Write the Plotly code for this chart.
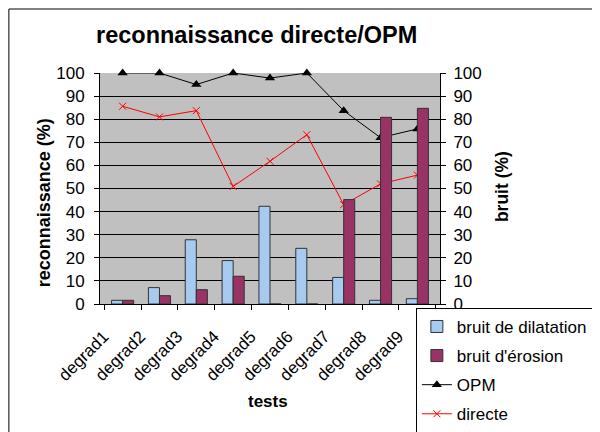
import plotly.graph_objects as go

categories = ["degrad1", "degrad2", "degrad3", "degrad4", "degrad5", "degrad6", "degrad7", "degrad8", "degrad9"]
bruit_dilatation = [1.6, 7.1, 27.8, 18.8, 42.3, 24.1, 11.5, 1.6, 2.3]
bruit_erosion = [1.6, 3.6, 6.2, 12.0, 0, 0, 45.2, 80.8, 84.7]
opm = [100, 100, 95, 100, 97.8, 100, 83.7, 72, 75.8]
directe = [85.6, 81, 83.7, 50.9, 61.8, 73.3, 43, 52, 55.8]
y_ticks = [0, 10, 20, 30, 40, 50, 60, 70, 80, 90, 100]

FONT = "Liberation Sans, Arial, sans-serif"

fig = go.Figure()
fig.add_trace(go.Bar(x=categories, y=bruit_dilatation, name="bruit de dilatation", yaxis="y2",
                     marker=dict(color="#a6caf0", line=dict(color="#333333", width=1)),
                     legendgroup="a"))
fig.add_trace(go.Bar(x=categories, y=bruit_erosion, name="bruit d'érosion", yaxis="y2",
                     marker=dict(color="#993366", line=dict(color="#333333", width=1)),
                     legendgroup="b"))
fig.add_trace(go.Scatter(x=categories, y=opm, name="OPM", mode="lines+markers",
                         line=dict(color="black", width=1), cliponaxis=False,
                         marker=dict(symbol="triangle-up", size=9, color="black"),
                         legendgroup="c"))
fig.add_trace(go.Scatter(x=categories, y=directe, name="directe", mode="lines+markers",
                         line=dict(color="#ff0000", width=1), cliponaxis=False,
                         marker=dict(symbol="x-thin", size=7, line=dict(color="#ff0000", width=1)),
                         legendgroup="d"))

fig.update_layout(
    width=600, height=432,
    margin=dict(l=92, r=168, t=65, b=136, autoexpand=False),
    paper_bgcolor="white",
    plot_bgcolor="#c0c0c0",
    font=dict(family=FONT, size=17, color="black"),
    barmode="group", bargap=0.4, bargroupgap=0,
    showlegend=True,
    legend=dict(x=0.929, y=-0.017, xanchor="left", yanchor="top",
                bgcolor="white", bordercolor="black", borderwidth=1,
                font=dict(size=17), traceorder="grouped", tracegroupgap=4),
    xaxis=dict(type="category", tickson="boundaries", ticks="outside", ticklen=5,
               tickcolor="black", showline=True, linecolor="black", tickangle=-45,
               ticklabelshift=-19, ticklabelstandoff=15,
               showgrid=False, tickfont=dict(size=17)),
    yaxis=dict(range=[0, 100], tickvals=y_ticks, ticks="outside", ticklen=5, tickcolor="black",
               showline=True, linecolor="black", gridcolor="black", gridwidth=1,
               ticklabelstandoff=6,
               zeroline=False, tickfont=dict(size=17)),
    yaxis2=dict(range=[0, 100], tickvals=y_ticks, overlaying="y", side="right", ticks="outside",
                ticklen=5, tickcolor="black", showline=True, linecolor="black",
                ticklabelstandoff=4,
                showgrid=False, zeroline=False, tickfont=dict(size=17)),
    annotations=[
        dict(text="<b>reconnaissance directe/OPM</b>", xref="paper", yref="paper",
             x=0.459, y=1.165, xanchor="center", yanchor="middle", showarrow=False,
             font=dict(size=23.5)),
        dict(text="<b>reconnaissance (%)</b>", xref="paper", yref="paper",
             x=-0.165, y=0.44, textangle=-90, xanchor="center", yanchor="middle",
             showarrow=False, font=dict(size=18)),
        dict(text="<b>bruit (%)</b>", xref="paper", yref="paper",
             x=1.182, y=0.51, textangle=-90, xanchor="center", yanchor="middle",
             showarrow=False, font=dict(size=17.5)),
        dict(text="<b>tests</b>", xref="paper", yref="paper",
             x=0.494, y=-0.42, xanchor="center", yanchor="middle",
             showarrow=False, font=dict(size=17)),
    ],
    shapes=[dict(type="rect", xref="paper", yref="paper", x0=-0.268, x1=1.6,
                 y0=-0.7, y1=1.277, line=dict(color="black", width=1), layer="below")],
)

fig.write_html("out.html")
